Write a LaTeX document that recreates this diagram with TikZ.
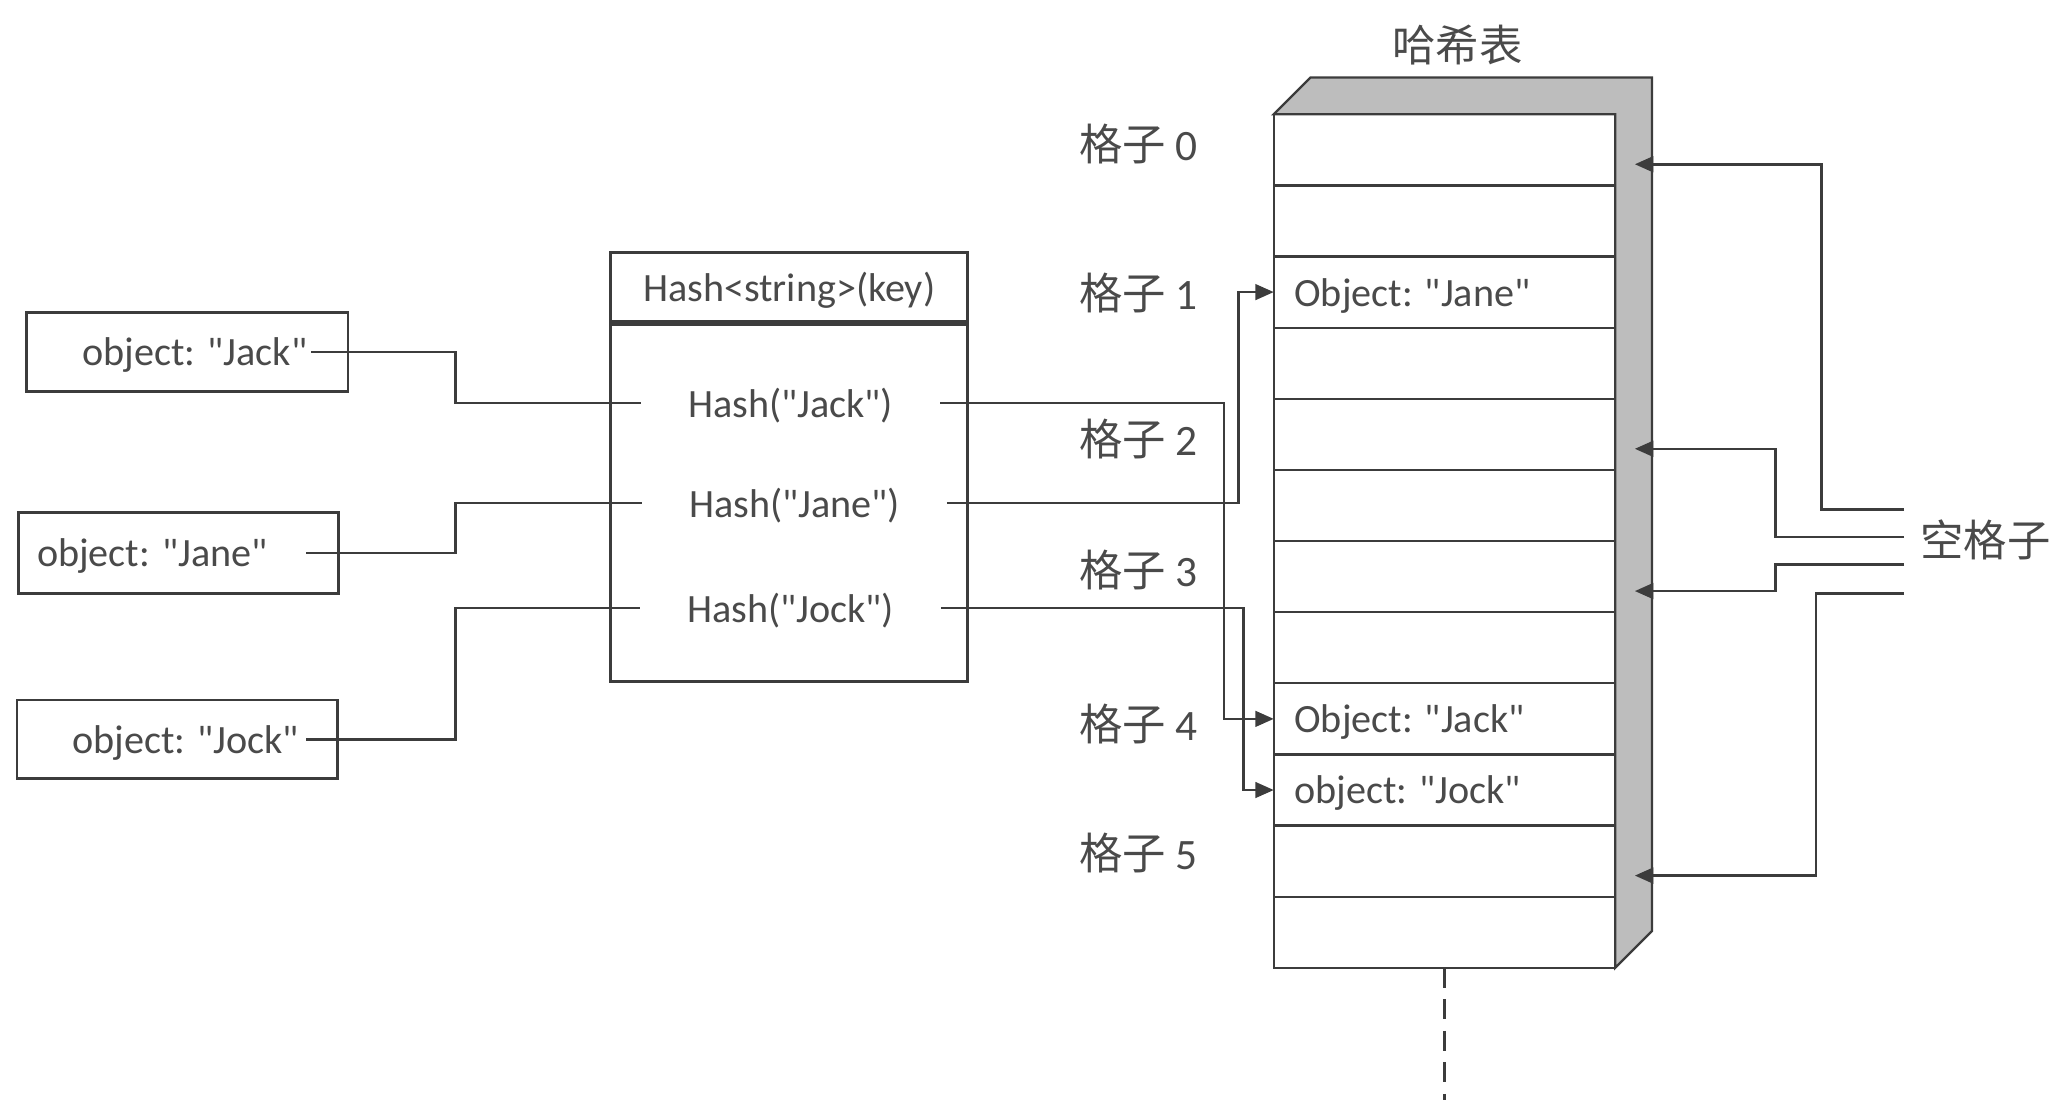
\documentclass[tikz,border=0pt]{standalone}
\usepackage{fontspec}
\setmainfont{Carlito}[Ligatures=TeXOff]
\newfontfamily\cjk{Noto Sans CJK SC}
\usetikzlibrary{arrows.meta}
\usetikzlibrary{positioning}
\definecolor{inkc}{HTML}{3C3C3C}
\definecolor{txtc}{HTML}{4A4A4A}
\definecolor{sidec}{HTML}{BDBDBD}
\tikzset{%
    every node/.style={text=txtc, text depth=0pt, font=\fontsize{8.7}{10}\selectfont},
    box/.style={draw=inkc, line width=0.6pt, inner sep=0pt},
    cell/.style={draw=inkc, line width=0.5pt, minimum width=26mm, minimum height=5.417mm, inner sep=0pt, outer sep=0pt},
    entry/.style={anchor=west, inner xsep=1.5mm},
    hashitem/.style={inner xsep=10pt},
    zh/.style={font=\cjk\fontsize{9.4}{11}\selectfont},
    link/.style={draw=inkc, line width=0.55pt},
    arr/.style={link, -{Triangle[length=4pt,width=3.4pt]}},
}

\begin{document}
\begin{tikzpicture}[x=0.1mm,y=-0.1mm]
\useasboundingbox (0,0) rectangle (1568,838);
\foreach \i in {0,...,11}
  \node (c\i) [cell] at (1100,{114.08+54.17*\i}) {};
\filldraw [draw=inkc, fill=sidec, line width=0.5pt] (c0.north west) -- ++(28,-28)
  -- ([shift={(28,-28)}]c0.north east) -- ([shift={(28,-28)}]c11.south east)
  -- (c11.south east) -- (c0.north east) -- cycle;
\node (title) [zh] at (1110,33) {哈希表};
\node (ejane) [entry] at (c2.west) {Object: "Jane"};
\node (ejack) [entry] at (c8.west) {Object: "Jack"};
\node (ejock) [entry] at (c9.west) {object: "Jock"};
\foreach \k/\y in {0/108,1/222,2/333,3/433,4/550,5/648}
  \node (g\k) [zh] at (867,\y) {格子 {\rmfamily\k}};

\node (hdr) [box, minimum width=27.2mm, minimum height=5.3mm] at (601,218.5) {Hash<string>(key)};
\node (hbody) [box, minimum width=27.2mm, minimum height=27.2mm, below=0mm of hdr] {};
\node (hjack) [hashitem] at (602,307) {Hash("Jack")};
\node (hjane) [hashitem] at (605,383) {Hash("Jane")};
\node (hjock) [hashitem] at (602,463) {Hash("Jock")};

\node (ojack) [box, minimum width=24.5mm, minimum height=6mm] at (142.5,268) {\hspace*{1.2mm}object: "Jack"};
\node (ojane) [box, minimum width=24.4mm, minimum height=6.2mm] at (136,421) {object: "Jane"\hspace*{4mm}};
\node (ojock) [box, minimum width=24.4mm, minimum height=6mm] at (135,563) {\hspace*{1.3mm}object: "Jock"};

\coordinate (lbend) at (347,0);
\draw [link] ([xshift=-2.9mm]ojack.east) -- (ojack.east -| lbend) |- (hjack.west);
\draw [link] ([xshift=-2.6mm]ojane.east) -- (ojane.east -| lbend) |- (hjane.west);
\draw [link] ([xshift=-2.5mm]ojock.east) -- (ojock.east -| lbend) |- (hjock.west);

\draw [arr] (hjack.east) -| ([xshift=-3.8mm]c8.west) -- (c8.west);
\draw [arr] (hjane.east) -| ([xshift=-2.7mm]c2.west) -- (c2.west);
\draw [arr] (hjock.east) -| ([xshift=-2.3mm]c9.west) -- (c9.west);

\node (empty) [zh, anchor=west] at (1450,410) {空格子};
\coordinate (e1) at ([yshift=2.2mm]empty.west);
\coordinate (e2) at ([yshift=0.1mm]empty.west);
\coordinate (e3) at ([yshift=-2.0mm]empty.west);
\coordinate (e4) at ([yshift=-4.2mm]empty.west);
\coordinate (b1) at (1387,0);
\coordinate (b2) at (1352,0);
\coordinate (b4) at (1383,0);
\foreach \r in {0,4,6,10}
  \coordinate (t\r) at ([xshift=1.5mm,yshift=-1.1mm]c\r.east);
\foreach \e/\b/\t in {e1/b1/t0,e2/b2/t4,e3/b2/t6,e4/b4/t10}
  \draw [arr] (\e) -| (\b |- \t) -- (\t);

\coordinate (tail) at (1100,838);
\draw [link, dash pattern=on 1.5mm off 0.9mm] (c11.south) -- (tail);
\end{tikzpicture}
\end{document}
